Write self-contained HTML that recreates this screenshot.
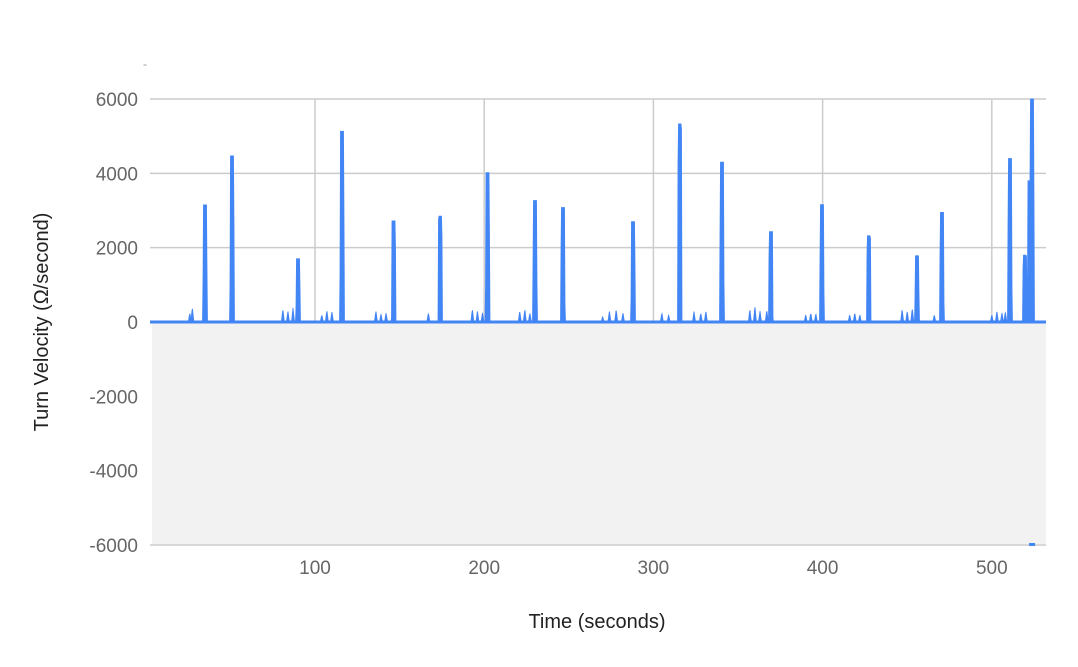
<!DOCTYPE html>
<html><head><meta charset="utf-8">
<style>
body{margin:0;background:#fff;font-family:"Liberation Sans",Arial,sans-serif;}
svg text{font-family:"Liberation Sans",Arial,sans-serif;}
</style></head>
<body>
<svg id="chart" width="1078" height="662" xmlns="http://www.w3.org/2000/svg">
<text x="143" y="68" font-size="12" fill="#999">-</text>
<g id="grid"></g>
<g id="plot"></g>
<g id="xt"></g>
<g id="yt"></g>
<text x="597" y="628" text-anchor="middle" font-size="20" fill="#222">Time (seconds)</text>
<text transform="translate(48,322) rotate(-90)" text-anchor="middle" font-size="20" fill="#222">Turn Velocity (Ω/second)</text>
</svg>
<script>
const xTicks=[100,200,300,400,500];
const yTicks=[6000,4000,2000,0,-2000,-4000,-6000];
const spikeTimes=[35,51,90,116,146.5,174,202,230,246.5,288,315.6,340.5,369.4,399.6,427.3,455.8,470.5,510.7,519.5,522.3,523.8];
const spikeValues=[3150,4470,1700,5130,2720,2850,4020,3270,3080,2700,5330,4300,2430,3160,2320,1780,2950,4400,1800,3800,6000];
const bumpTimes=[26,27.5,81,84,87,104,107,110,136,139,142,167,193,196,199,221,224,227,270,274,278,282,305,309,324,328,331,357,360,363,367,390,393,396,416,419,422,447,450,453,466,500,503,506,508];
const bumpValues=[250,400,350,300,380,200,320,280,300,220,250,250,350,300,250,300,350,250,150,300,350,250,250,200,280,250,300,350,420,300,330,200,250,230,200,250,200,350,300,380,200,200,300,250,280];
const NS="http://www.w3.org/2000/svg";
const X0=150,X1=1046,Y0=99,Y1=545;
const tMin=(X0-145.8)/1.692,tMax=(X1-145.8)/1.692;
const x=t=>X0+(t-tMin)/(tMax-tMin)*(X1-X0);
const y=v=>Y1-(v+6000)/12000*(Y1-Y0);
function el(tag,a,p){const e=document.createElementNS(NS,tag);for(const k in a)e.setAttribute(k,a[k]);document.getElementById(p).appendChild(e);return e;}
yTicks.forEach(v=>{
 if(v>=0||v===-6000){
 const l=el('line',{x1:X0,x2:X1,y1:y(v),y2:y(v),stroke:'#ccc','stroke-width':1.5},'grid');
 
 
 }
 const t=el('text',{x:138,y:y(v)+7,'text-anchor':'end','font-size':19,fill:'#666'},'yt');
 t.textContent=v;
 
 
});
xTicks.forEach(v=>{
 const l=el('line',{x1:x(v),x2:x(v),y1:Y0,y2:y(0),stroke:'#ccc','stroke-width':1.5},'grid');
 
 
 const t=el('text',{x:x(v),y:574,'text-anchor':'middle','font-size':19,fill:'#666'},'xt');
 t.textContent=v;
 
 
});
let g=el('rect',{x:X0+2,y:y(0),width:X1-X0-2,height:y(-6000)-y(0)-1,fill:'#f2f2f2'},'grid');


// envelope of spike/bump shapes sampled per half-pixel
function valAt(t){
 let m=0;
 spikeTimes.forEach((c,i)=>{const dt=Math.abs(t-c);if(dt<=1.0)m=Math.max(m,spikeValues[i]);else if(dt<1.3)m=Math.max(m,spikeValues[i]*(1.3-dt)/0.3);});
 bumpTimes.forEach((c,i)=>{const dt=Math.abs(t-c);if(dt<0.9)m=Math.max(m,bumpValues[i]*(0.9-dt)/0.9);});
 return m;
}
let d='M'+X0+','+y(0);
for(let px=X0;px<=X1;px+=0.5){
 const t=tMin+(px-X0)/(X1-X0)*(tMax-tMin);
 d+=' L'+px.toFixed(1)+','+y(valAt(t)).toFixed(1);
}
d+=' L'+X1+','+y(0)+' Z';
const area=el('path',{d:d,fill:'#4285f4',stroke:'#4285f4','stroke-width':0.8},'plot');


const base=el('line',{x1:X0,x2:X1,y1:y(0),y2:y(0),stroke:'#4285f4','stroke-width':3},'plot');


const neg=el('rect',{x:x(523.8)-3,y:y(-6000)-2,width:6,height:3,fill:'#4285f4'},'plot');


</script>
</body></html>
